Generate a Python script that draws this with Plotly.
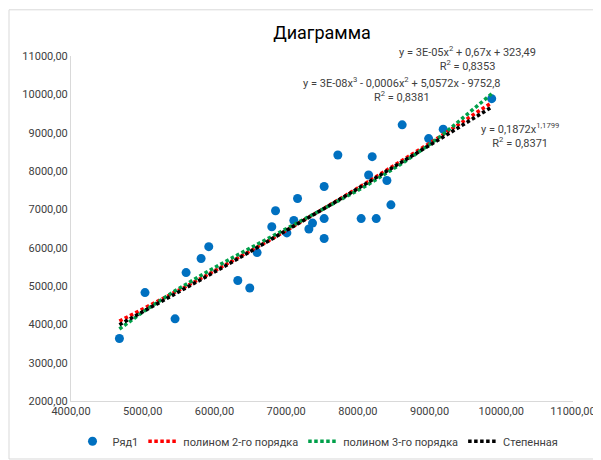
import numpy as np
import plotly.graph_objects as go

# data
x_vals = [4675, 5032, 5451, 5605, 5814, 5921, 6326, 6493, 6595, 6800,
          6852, 7010, 7107, 7159, 7317, 7368, 7530, 7530, 7530, 7721,
          8046, 8150, 8200, 8256, 8405, 8461, 8618, 8987, 9190, 9866]
y_vals = [3631, 4828, 4144, 5349, 5718, 6026, 5144, 4949, 5872, 6546,
          6964, 6385, 6708, 7282, 6487, 6641, 7597, 6759, 6238, 8418,
          6759, 7897, 8374, 6759, 7751, 7118, 9205, 8846, 9092, 9887]

series_name = 'Ряд1'
trend_names = ['полином 2-го порядка', 'полином 3-го порядка', 'Степенная']
trend_labels = [
    'y = 3E-05x<sup>2</sup> + 0,67x + 323,49<br>R<sup>2</sup> = 0,8353',
    'y = 3E-08x<sup>3</sup> - 0,0006x<sup>2</sup> + 5,0572x - 9752,8<br>R<sup>2</sup> = 0,8381',
    'y = 0,1872x<sup>1,1799</sup><br>R<sup>2</sup> = 0,8371',
]

FONT = 'Roboto'
W, H = 601, 460
L, R, T, B = 63, 36, 48, 61


def px(x):
    return (x - L) / (W - L - R)


def py(y):
    return (H - B - y) / (H - T - B)


x = np.array(x_vals, dtype=float)
y = np.array(y_vals, dtype=float)
xs = np.sort(x)

# trendlines fitted like Excel does
p2 = np.polyval(np.polyfit(x, y, 2), xs)
p3 = np.polyval(np.polyfit(x, y, 3), xs)
b, lna = np.polyfit(np.log(x), np.log(y), 1)
pw = np.exp(lna) * xs ** b

fig = go.Figure()
fig.add_trace(go.Scatter(x=x_vals, y=y_vals, mode='markers', name=series_name,
                         marker=dict(color='#0070C0', size=9)))
for name, ys, col in zip(trend_names, [p2, p3, pw], ['#FF0000', '#00A04A', '#000000']):
    fig.add_trace(go.Scatter(x=xs, y=ys, mode='lines', name=name,
                             line=dict(color=col, width=3.5, dash='3.5px,2.5px')))

ann_pos = [(530, 34), (495, 65), (553, 112)]
for txt, (ax, ay) in zip(trend_labels, ann_pos):
    fig.add_annotation(x=px(ax), y=py(ay), xref='paper', yref='paper', text=txt,
                       showarrow=False, align='center',
                       font=dict(family=FONT, size=11, color='#404040'))

fig.update_layout(
    width=W, height=H,
    margin=dict(l=L, r=R, t=T, b=B),
    paper_bgcolor='white', plot_bgcolor='white',
    separators=', ',
    font=dict(family=FONT, size=11, color='#404040'),
    title=dict(text='Диаграмма', x=0.5, xref='paper', y=1 - 25 / H, yanchor='middle',
               font=dict(family=FONT, size=18, color='#000000')),
    xaxis=dict(range=[4000, 11000], dtick=1000, tickformat='.2f', showgrid=False,
               zeroline=False, showline=True, linecolor='#D9D9D9', ticks=''),
    yaxis=dict(range=[2000, 11000], dtick=1000, tickformat='.2f', showgrid=False,
               zeroline=False, showline=True, linecolor='#D9D9D9', ticks=''),
    legend=dict(orientation='h', x=px(310), xanchor='center', y=py(440), yanchor='middle',
                font=dict(family=FONT, size=11, color='#404040')),
    shapes=[dict(type='rect', xref='paper', yref='paper',
                 x0=px(1), x1=px(W - 1), y0=py(H - 2), y1=py(1),
                 line=dict(color='#D9D9D9', width=1))],
)

fig.write_html('out.html')
